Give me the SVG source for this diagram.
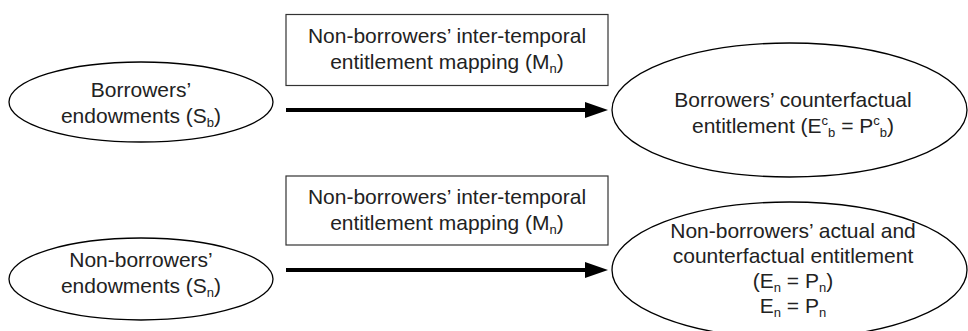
<svg xmlns="http://www.w3.org/2000/svg" width="968" height="331" viewBox="0 0 968 331">
<defs>
<style>
.t{font-family:"Liberation Sans",Arial,sans-serif;font-size:21px;fill:#222;text-anchor:middle}
.s{font-size:13px}
.box{fill:#fff;stroke:#333;stroke-width:1.2}
.ell{fill:#fff;stroke:#000;stroke-width:1.3}
.arr{stroke:#000;stroke-width:4;fill:none}
</style>
<marker id="ah" markerUnits="userSpaceOnUse" markerWidth="23" markerHeight="16" refX="5" refY="8" orient="auto">
<path d="M0,0 L23,8 L0,16 z" fill="#000"/>
</marker>
</defs>
<rect width="968" height="331" fill="#fff"/>
<g id="connectors">
<line class="arr" x1="286" y1="110" x2="590" y2="110" marker-end="url(#ah)"/>
<line class="arr" x1="286" y1="270" x2="590" y2="270" marker-end="url(#ah)"/>
</g>
<g id="borrowers-endowments">
<ellipse class="ell" cx="141" cy="102" rx="132" ry="40"/>
<text class="t" x="141" y="97">Borrowers’</text>
<text class="t" x="141" y="123">endowments (S<tspan class="s" dy="4">b</tspan><tspan dy="-4">)</tspan></text>
</g>
<g id="mapping-top">
<rect class="box" x="286" y="14.5" width="322" height="71"/>
<text class="t" x="447" y="43">Non-borrowers’ inter-temporal</text>
<text class="t" x="447" y="69">entitlement mapping (M<tspan class="s" dy="4">n</tspan><tspan dy="-4">)</tspan></text>
</g>
<g id="borrowers-counterfactual">
<ellipse class="ell" cx="789.5" cy="110" rx="177.5" ry="67"/>
<text class="t" x="793" y="107">Borrowers’ counterfactual</text>
<text class="t" x="793" y="133">entitlement (E<tspan class="s" dy="-8">c</tspan><tspan class="s" dy="12">b</tspan><tspan dy="-4"> = P</tspan><tspan class="s" dy="-8">c</tspan><tspan class="s" dy="12">b</tspan><tspan dy="-4">)</tspan></text>
</g>
<g id="nonborrowers-endowments">
<ellipse class="ell" cx="141" cy="279" rx="132" ry="41"/>
<text class="t" x="141" y="267">Non-borrowers’</text>
<text class="t" x="141" y="293">endowments (S<tspan class="s" dy="4">n</tspan><tspan dy="-4">)</tspan></text>
</g>
<g id="mapping-bottom">
<rect class="box" x="286" y="176" width="322" height="69"/>
<text class="t" x="447" y="204">Non-borrowers’ inter-temporal</text>
<text class="t" x="447" y="230">entitlement mapping (M<tspan class="s" dy="4">n</tspan><tspan dy="-4">)</tspan></text>
</g>
<g id="nonborrowers-entitlement">
<ellipse class="ell" cx="789.5" cy="270" rx="177.5" ry="68"/>
<text class="t" x="793" y="238">Non-borrowers’ actual and</text>
<text class="t" x="793" y="263">counterfactual entitlement</text>
<text class="t" x="793" y="288">(E<tspan class="s" dy="4">n</tspan><tspan dy="-4"> = P</tspan><tspan class="s" dy="4">n</tspan><tspan dy="-4">)</tspan></text>
<text class="t" x="793" y="313">E<tspan class="s" dy="4">n</tspan><tspan dy="-4"> = P</tspan><tspan class="s" dy="4">n</tspan></text>
</g>
</svg>
